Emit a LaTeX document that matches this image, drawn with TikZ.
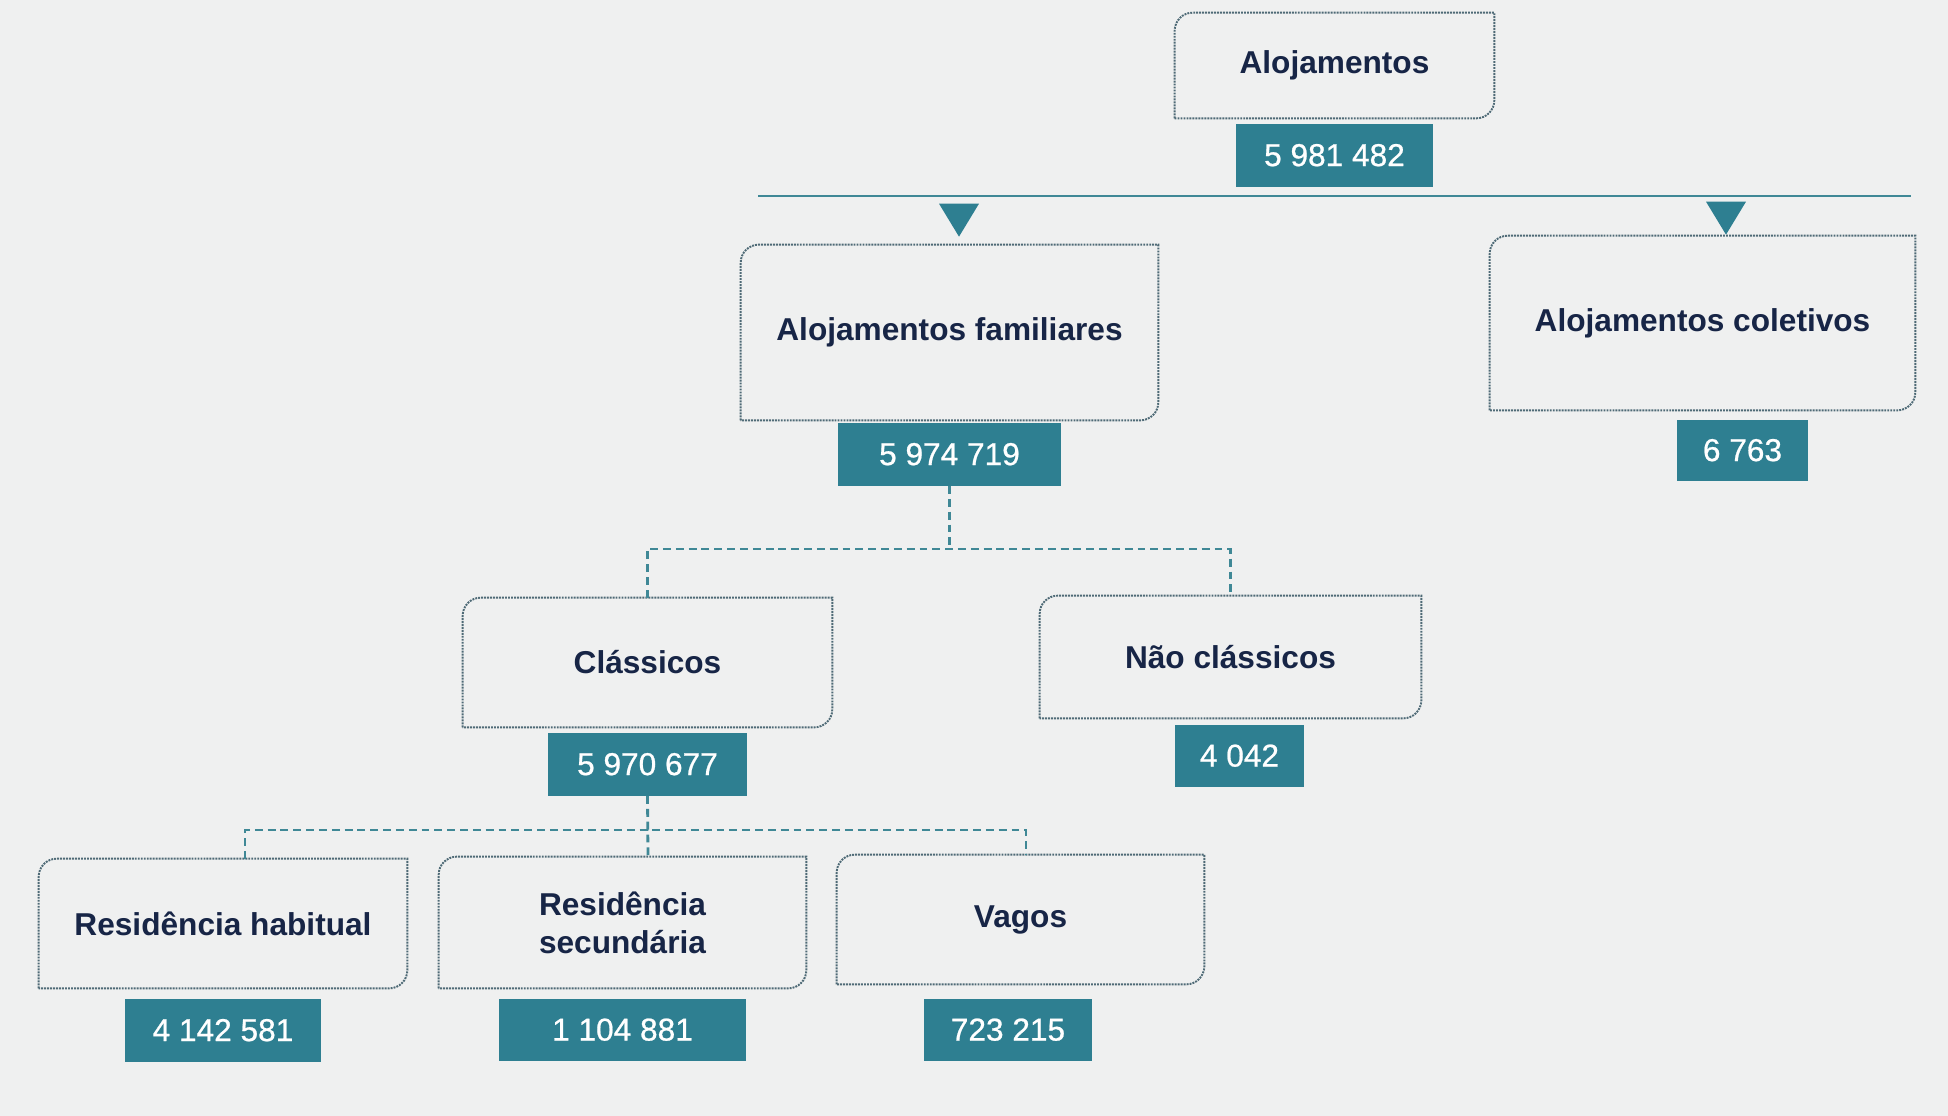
\documentclass[tikz,border=0pt]{standalone}
\usepackage{fontspec}
\setmainfont{Liberation Sans}
\newfontfamily\numfont{Liberation Sans}[FakeBold=0.7]
\usetikzlibrary{positioning}
\definecolor{bgc}{HTML}{EFF0F0}
\definecolor{navy}{HTML}{172546}
\definecolor{tealc}{HTML}{2E7F91}
\definecolor{linec}{HTML}{3F8896}
\definecolor{dotc}{HTML}{4E6A76}
\newcommand{\catframe}[1]{\draw[boxline] (#1.south west) -- ([yshift=-0.36cm]#1.north west) arc[start angle=180,end angle=90,radius=0.36cm] -- (#1.north east) -- ([yshift=0.36cm]#1.south east) arc[start angle=0,end angle=-90,radius=0.36cm] -- cycle;}

\begin{document}
\begin{tikzpicture}[x=0.02cm,y=-0.02cm,
  cat/.style={text=navy,font=\bfseries\fontsize{18}{21.6}\selectfont,align=center,inner sep=0pt},
  num/.style={fill=tealc,text=white,font=\numfont\fontsize{18}{21.6}\selectfont,inner sep=0pt,minimum height=1.26cm},
  boxline/.style={draw=dotc,line width=1.1pt,dash pattern=on 1.1pt off 0.6pt},
  conn/.style={draw=linec,line width=1.6pt,dash pattern=on 4.5pt off 2.8pt},
  bar/.style={draw=linec,line width=1.6pt},
  tri/.style={fill=tealc}]
\fill[bgc] (0,0) rectangle (1948,1116);

\node[cat,minimum width=6.38cm,minimum height=2.10cm] (alo) at (1334.5,65.5) {Alojamentos};
\node[num,minimum width=3.94cm,below=0.1cm of alo] (alonum) {5 981 482};
\node[cat,minimum width=8.34cm,minimum height=3.50cm] (fam) at (949.5,332.5) {Alojamentos familiares};
\node[num,minimum width=4.46cm,below=0.04cm of fam] (famnum) {5 974 719};
\node[cat,minimum width=8.50cm,minimum height=3.48cm] (col) at (1702.5,323) {Alojamentos coletivos};
\node[num,minimum width=2.62cm,minimum height=1.22cm,below=0.18cm of col,xshift=0.8cm] (colnum) {6 763};
\node[cat,minimum width=7.38cm,minimum height=2.58cm] (cla) at (647.5,662.5) {Clássicos};
\node[num,minimum width=3.98cm,below=0.1cm of cla] (clanum) {5 970 677};
\node[cat,minimum width=7.62cm,minimum height=2.44cm] (nao) at (1230.5,657) {Não clássicos};
\node[num,minimum width=2.58cm,minimum height=1.24cm,below=0.12cm of nao,xshift=0.18cm] (naonum) {4 042};
\node[cat,minimum width=7.36cm,minimum height=2.58cm] (hab) at (223,923.5) {Residência habitual};
\node[num,minimum width=3.94cm,below=0.2cm of hab] (habnum) {4 142 581};
\node[cat,minimum width=7.34cm,minimum height=2.62cm] (sec) at (622.5,922.5) {Residência\\secundária};
\node[num,minimum width=4.96cm,minimum height=1.24cm,below=0.2cm of sec] (secnum) {1 104 881};
\node[cat,minimum width=7.34cm,minimum height=2.58cm] (vag) at (1020.5,919.5) {Vagos};
\node[num,minimum width=3.36cm,minimum height=1.24cm,below=0.28cm of vag,xshift=-0.25cm] (vagnum) {723 215};

\foreach \b in {alo,fam,col,cla,nao,hab,sec,vag} {\catframe{\b}}

\coordinate (barL) at (758,196);
\coordinate (barR) at (1911,196);
\draw[bar] (barL) -- (barR);
\fill[tri] ([xshift=0.19cm,yshift=0.16cm]fam.north) -- ++(-20,-33) -- ++(40,0) -- cycle;
\fill[tri] ([xshift=0.47cm,yshift=0.02cm]col.north) -- ++(-20,-33) -- ++(40,0) -- cycle;

\path (famnum.south) ++(0,63) coordinate (famsplit);
\draw[conn] (famnum.south) -- (famsplit);
\draw[conn] (cla.north) |- (famsplit) -| (nao.north);

\path (clanum.south) ++(0,34) coordinate (clasplit);
\draw[conn] (clanum.south) -- ([xshift=0.51cm]sec.north);
\draw[conn] ([xshift=0.44cm]hab.north) |- (clasplit) -| ([xshift=0.11cm]vag.north);
\end{tikzpicture}
\end{document}
